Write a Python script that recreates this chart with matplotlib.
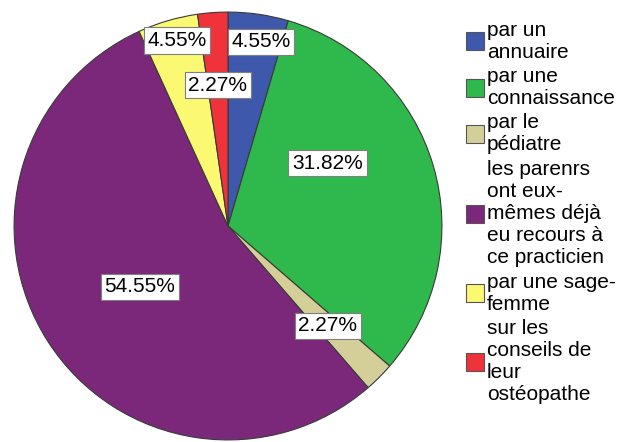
import numpy as np
import matplotlib
matplotlib.use('Agg')
import matplotlib.pyplot as plt
from matplotlib.patches import Rectangle

plt.rcParams['font.family'] = ['Liberation Sans', 'DejaVu Sans']

# Données (n = 44)
categories = ['par un annuaire', 'par une connaissance', 'par le pédiatre',
              'les parenrs ont eux-mêmes déjà eu recours à ce practicien',
              'par une sage-femme', 'sur les conseils de leur ostéopathe']
legende = [['par un', 'annuaire'],
           ['par une', 'connaissance'],
           ['par le', 'pédiatre'],
           ['les parenrs', 'ont eux-', 'mêmes déjà', 'eu recours à', 'ce practicien'],
           ['par une sage-', 'femme'],
           ['sur les', 'conseils de', 'leur', 'ostéopathe']]
effectifs = [2, 14, 1, 24, 2, 1]
couleurs = ['#3E58AC', '#2FB84B', '#D4CF98', '#7B287B', '#FBF871', '#F0333B']

# placement des étiquettes (distance au centre, décalage d'angle)
dist_etiq = [0.875, 0.55, 0.66, 0.5, 0.9, 0.66]
decal_etiq = [-2, 16, 0, 2, -1, 0]

W, H = 620, 442
fig = plt.figure(figsize=(W / 100, H / 100), dpi=100)
fig.patch.set_facecolor('white')

# axes du camembert (en pixels : centre 228,226 rayon 215)
cx, cy, r = 228, 226, 215
ax = fig.add_axes([(cx - r) / W, (H - cy - r) / H, 2 * r / W, 2 * r / H])
wedges, _ = ax.pie(effectifs, colors=couleurs, startangle=90, counterclock=False,
                   wedgeprops=dict(edgecolor='#3a3a3a', linewidth=0.8))
ax.set_xlim(-1.005, 1.005)
ax.set_ylim(-1.005, 1.005)
ax.set_aspect('equal')
ax.axis('off')

total = sum(effectifs)
for w, n, d, dec in zip(wedges, effectifs, dist_etiq, decal_etiq):
    ang = np.deg2rad((w.theta1 + w.theta2) / 2 + dec)
    ax.text(d * np.cos(ang), d * np.sin(ang), '%.2f%%' % (100 * n / total),
            ha='center', va='center', fontsize=15,
            bbox=dict(boxstyle='square,pad=0.18', facecolor='white',
                      edgecolor='#7f7f7f', linewidth=0.8))

# légende dessinée à la main
h_ligne, ecart = 22, 2.5
haut = 19
for lignes, c in zip(legende, couleurs):
    n = len(lignes)
    centre = haut + n * h_ligne / 2
    fig.patches.append(Rectangle((466 / W, 1 - (centre + 9) / H), 18 / W, 18 / H,
                                 transform=fig.transFigure, facecolor=c,
                                 edgecolor='#555555', linewidth=0.8))
    for i, t in enumerate(lignes):
        y = haut + (i + 0.5) * h_ligne
        fig.text(487 / W, 1 - y / H, t, ha='left', va='center', fontsize=15)
    haut += n * h_ligne + ecart

fig.savefig('out.png', dpi=100)
